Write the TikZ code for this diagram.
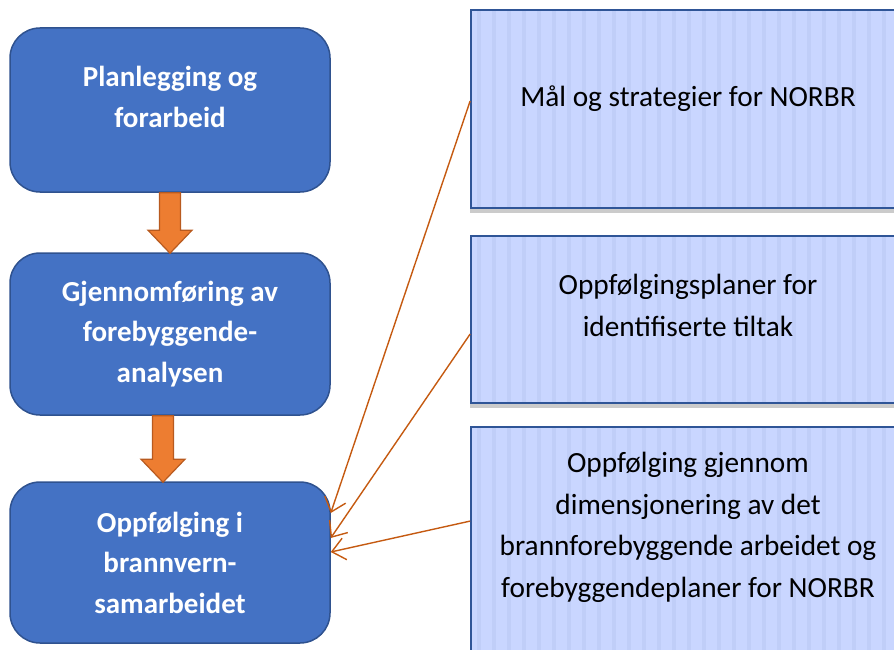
\documentclass[tikz,border=0pt]{standalone}
\usepackage{fontspec}
\setmainfont{Carlito}
\usetikzlibrary{arrows.meta,calc,shadows}

\definecolor{fasefill}{HTML}{4472C4}
\definecolor{faseline}{HTML}{2F528F}
\definecolor{pilfill}{HTML}{ED7D31}
\definecolor{pilline}{HTML}{B85A1F}
\definecolor{tiltakfill}{HTML}{C9D6FF}
\definecolor{tiltakstripe}{HTML}{C0CEF8}
\definecolor{tiltakline}{HTML}{2F5597}
\definecolor{kobline}{HTML}{C55A11}

\begin{document}
\begin{tikzpicture}[x=1pt,y=-1pt,
  fase/.style={draw=faseline,line width=1.5pt,fill=fasefill,rounded corners=30pt,
    minimum width=320pt,text=white,align=center,
    font=\fontsize{29}{40.5}\selectfont\bfseries},
  tiltak/.style={draw=tiltakline,line width=1.8pt,fill=tiltakfill,minimum width=460pt,
    drop shadow={shadow xshift=-1pt,shadow yshift=-5pt,fill=black!45,opacity=.45},
    path picture={\foreach \s in {6,21,...,456}
      \fill[tiltakstripe] ([xshift=\s pt]path picture bounding box.north west) rectangle ++(4pt,-400pt);}},
  tiltaktekst/.style={align=center,inner sep=0pt,font=\fontsize{29.3}{41.7}\selectfont},
  blokkpil/.style={draw=pilline,line width=1.2pt,fill=pilfill,line join=miter},
  kobling/.style={draw=kobline,line width=1.4pt,-{Straight Barb[length=13pt,width=22pt,line width=1.4pt]}}
]
\useasboundingbox (0,0) rectangle (894,650);
\clip (0,0) rectangle (894,650);

% venstre kolonne
\node[fase,minimum height=164pt,text depth=26pt] (plan) at (170,110) {Planlegging og\\forarbeid};
\node[fase,minimum height=162pt] (gjen) at (170,334) {Gjennomføring av\\forebyggende-\\analysen};
\node[fase,minimum height=161pt] (oppf) at (170,562.5) {Oppfølging i\\brannvern-\\samarbeidet};

% hoyre kolonne
\node[tiltak,minimum height=198pt] (mal) at (701,109) {};
\node[tiltak,minimum height=167pt] (oppfplan) at (701,319.5) {};
\node[tiltak,minimum height=260pt] (dimens) at (701,557) {};

\node[tiltaktekst,anchor=north] (maltekst) at (688,86) {Mål og strategier for NORBR};
\node[tiltaktekst,anchor=north] (oppfplantekst) at (688,274) {Oppfølgingsplaner for\\identifiserte tiltak};
\node[tiltaktekst,anchor=north] (dimenstekst) at (688,452) {Oppfølging gjennom\\dimensjonering av det\\brannforebyggende arbeidet og\\forebyggendeplaner for NORBR};

% blokkpiler
\foreach \fra/\til/\dx in {plan/gjen/0,gjen/oppf/-7}
  \draw[blokkpil] ([xshift=\dx pt-10.5pt]\fra.south) -- ([xshift=\dx pt-10.5pt,yshift=22pt]\til.north)
    -- ([xshift=\dx pt-22pt,yshift=22pt]\til.north) -- ([xshift=\dx pt,yshift=-1pt]\til.north)
    -- ([xshift=\dx pt+22pt,yshift=22pt]\til.north) -- ([xshift=\dx pt+10.5pt,yshift=22pt]\til.north)
    -- ([xshift=\dx pt+10.5pt]\fra.south) -- cycle;

% koblinger
\draw[kobling] ([yshift=-92pt]mal.north west) -- ([yshift=49.5pt]oppf.east);
\draw[kobling] ([yshift=-99pt]oppfplan.north west) -- ([yshift=24.5pt]oppf.east);
\draw[kobling] ([yshift=-95pt]dimens.north west) -- ([yshift=10.5pt]oppf.east);
\end{tikzpicture}
\end{document}
